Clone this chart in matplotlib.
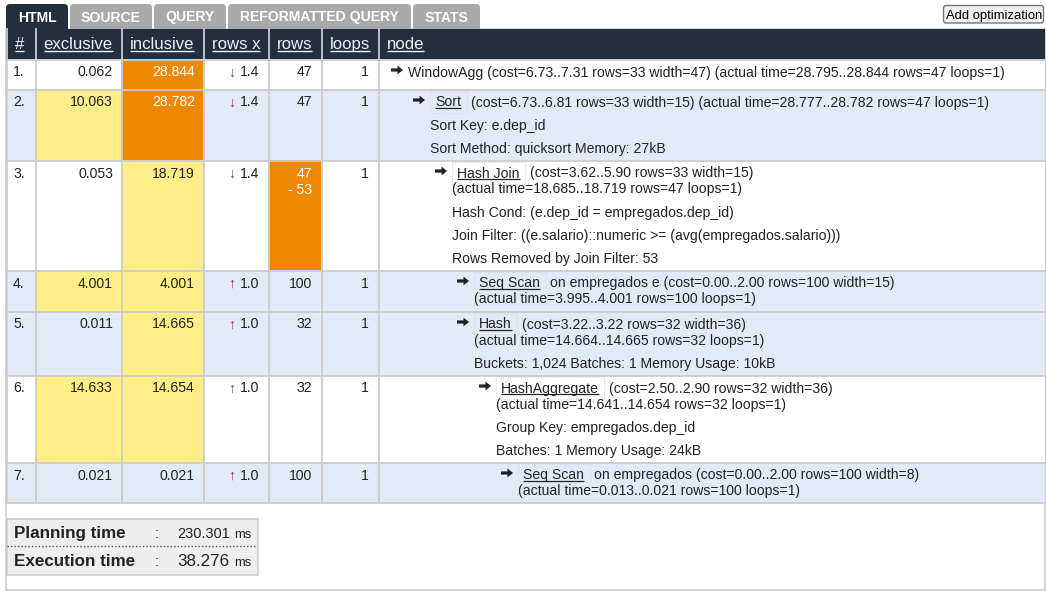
import matplotlib.pyplot as plt
from matplotlib.patches import Rectangle, FancyBboxPatch, Polygon

plt.rcParams['font.family'] = ['Liberation Sans', 'DejaVu Sans']

# ---- data ----
tabs = ["HTML", "SOURCE", "QUERY", "REFORMATTED QUERY", "STATS"]
headers = ["#", "exclusive", "inclusive", "rows x", "rows", "loops", "node"]

row_ids = ["1.", "2.", "3.", "4.", "5.", "6.", "7."]
exclusive = ["0.062", "10.063", "0.053", "4.001", "0.011", "14.633", "0.021"]
inclusive = ["28.844", "28.782", "18.719", "4.001", "14.665", "14.654", "0.021"]
rows_x_dir = ["down", "down", "down", "up", "up", "up", "up"]
rows_x = ["1.4", "1.4", "1.4", "1.0", "1.0", "1.0", "1.0"]
rows = [["47"], ["47"], ["47", "- 53"], ["100"], ["32"], ["32"], ["100"]]
loops = ["1", "1", "1", "1", "1", "1", "1"]

# cell shading: 0 = none, 1 = yellow, 2 = orange
excl_level = [0, 1, 0, 1, 0, 1, 0]
incl_level = [2, 2, 1, 1, 1, 1, 0]
rows_level = [0, 0, 2, 0, 0, 0, 0]
row_bg = ["white", "blue", "white", "blue", "blue", "white", "blue"]

depth = [0, 1, 2, 3, 3, 4, 5]
node_name = ["WindowAgg", "Sort", "Hash Join", "Seq Scan", "Hash", "HashAggregate", "Seq Scan"]
node_rest = [
    "(cost=6.73..7.31 rows=33 width=47) (actual time=28.795..28.844 rows=47 loops=1)",
    "(cost=6.73..6.81 rows=33 width=15) (actual time=28.777..28.782 rows=47 loops=1)",
    "(cost=3.62..5.90 rows=33 width=15)",
    "on empregados e (cost=0.00..2.00 rows=100 width=15)",
    "(cost=3.22..3.22 rows=32 width=36)",
    "(cost=2.50..2.90 rows=32 width=36)",
    "on empregados (cost=0.00..2.00 rows=100 width=8)",
]
node_actual = [
    None,
    None,
    "(actual time=18.685..18.719 rows=47 loops=1)",
    "(actual time=3.995..4.001 rows=100 loops=1)",
    "(actual time=14.664..14.665 rows=32 loops=1)",
    "(actual time=14.641..14.654 rows=32 loops=1)",
    "(actual time=0.013..0.021 rows=100 loops=1)",
]
node_extra = [
    [],
    ["Sort Key: e.dep_id", "Sort Method: quicksort Memory: 27kB"],
    ["Hash Cond: (e.dep_id = empregados.dep_id)",
     "Join Filter: ((e.salario)::numeric >= (avg(empregados.salario)))",
     "Rows Removed by Join Filter: 53"],
    [],
    ["Buckets: 1,024 Batches: 1 Memory Usage: 10kB"],
    ["Group Key: empregados.dep_id", "Batches: 1 Memory Usage: 24kB"],
    [],
]

planning_time = "230.301"
execution_time = "38.276"

# ---- style ----
W, H = 1046, 596
DARK = "#222f3e"
TXT = "#222222"
GRID = "#cccccc"
BLUE = "#e3eaf7"
YELLOW = "#ffee88"
ORANGE = "#ee8800"
shade = {0: None, 1: YELLOW, 2: ORANGE}


def px(p):
    return p * 72 / 100


fig = plt.figure(figsize=(W / 100, H / 100), dpi=100)
ax = fig.add_axes([0, 0, 1, 1])
ax.set_xlim(0, W)
ax.set_ylim(H, 0)
ax.axis("off")
fig.canvas.draw()
renderer = fig.canvas.get_renderer()


def text_width(t):
    return t.get_window_extent(renderer=renderer).width


def underline(t, y, color, lw=0.9):
    bb = t.get_window_extent(renderer=renderer)
    ax.plot([bb.x0, bb.x1], [y, y], color=color, lw=lw, solid_capstyle="butt")


def arrow_glyph(x0, yc, color=TXT):
    pts = [(x0, yc - 1.6), (x0 + 6.5, yc - 1.6), (x0 + 6.5, yc - 4.4), (x0 + 12, yc),
           (x0 + 6.5, yc + 4.4), (x0 + 6.5, yc + 1.6), (x0, yc + 1.6)]
    ax.add_patch(Polygon(pts, closed=True, fc=color, ec="none"))


# outer frame
ax.add_patch(Rectangle((5.5, 28.5), 1039.5, 561, fill=False, ec=GRID, lw=1.2))

# tabs
tab_x = [6, 70, 154, 228, 413]
tab_w = [62, 82, 72, 183, 67]
for i, (lab, x, w) in enumerate(zip(tabs, tab_x, tab_w)):
    col = DARK if i == 0 else "#a9a9a9"
    ax.add_patch(FancyBboxPatch((x, 4), w, 30, boxstyle="round,pad=0,rounding_size=4",
                                fc=col, ec="none"))
    ax.text(x + w / 2, 21.5, lab, color="white", fontsize=px(14), fontweight="bold",
            ha="center", va="baseline")

# add optimization button
ax.add_patch(FancyBboxPatch((943.5, 5.5), 100, 17.5, boxstyle="round,pad=0,rounding_size=2.5",
                            fc="#efefef", ec="#767676", lw=1))
ax.text(993.8, 19, "Add optimization", fontsize=px(13), color="black", ha="center",
        va="baseline")

# column layout
col_edges = [6, 35, 121, 203, 268, 321, 378, 1045]
header_top, header_bot = 29, 58
ax.add_patch(Rectangle((col_edges[0], header_top), col_edges[-1] - col_edges[0],
                       header_bot - header_top + 1, fc=DARK, ec="none"))
for j, h in enumerate(headers):
    t = ax.text(col_edges[j] + 8.5, 49, h, color="#eef2f6", fontsize=px(16.8),
                ha="left", va="baseline")
    underline(t, 51, "#eef2f6", lw=1.0)

# row heights from number of lines
row_tops = []
heights = []
y = 59
for k in range(len(row_ids)):
    n_head = 1 if node_actual[k] is None else 2
    h = max(30, 13 + 16 * (n_head - 1) + 23 * len(node_extra[k]) + 12)
    row_tops.append(y)
    heights.append(h)
    y += h
table_bot = y

fs = px(14)
for k in range(len(row_ids)):
    top, h = row_tops[k], heights[k]
    by = top + 17.5  # first baseline
    bg = BLUE if row_bg[k] == "blue" else "white"
    ax.add_patch(Rectangle((col_edges[0], top), col_edges[-1] - col_edges[0], h,
                           fc=bg, ec="none"))
    for j, lev in ((1, excl_level[k]), (2, incl_level[k]), (4, rows_level[k])):
        if shade[lev]:
            ax.add_patch(Rectangle((col_edges[j], top), col_edges[j + 1] - col_edges[j], h,
                                   fc=shade[lev], ec="none"))

    ax.text(col_edges[0] + 7, by, row_ids[k], fontsize=fs, color=TXT, va="baseline")
    ax.text(col_edges[2] - 8, by, exclusive[k], fontsize=fs, va="baseline", ha="right",
            color="white" if excl_level[k] == 2 else TXT)
    ax.text(col_edges[3] - 8, by, inclusive[k], fontsize=fs, va="baseline", ha="right",
            color="white" if incl_level[k] == 2 else TXT)
    t = ax.text(col_edges[4] - 9, by, rows_x[k], fontsize=fs, va="baseline", ha="right",
                color=TXT)
    arrow = "\u2193" if rows_x_dir[k] == "down" else "\u2191"
    ax.text(col_edges[4] - 9 - text_width(t) - 5, by, arrow, fontsize=px(14),
            va="baseline", ha="right", color="#a0342e")
    for m, r in enumerate(rows[k]):
        ax.text(col_edges[5] - 9, by + 16 * m, r, fontsize=fs, va="baseline", ha="right",
                color="white" if rows_level[k] == 2 else TXT)
    ax.text(col_edges[6] - 9, by, loops[k], fontsize=fs, va="baseline", ha="right", color=TXT)

    # node column
    ax0 = 391 + 22 * depth[k]
    arrow_glyph(ax0, by - 6.5)
    if depth[k] == 0:
        ax.text(ax0 + 17, by, node_name[k] + " " + node_rest[k], fontsize=fs,
                va="baseline", ha="left", color=TXT)
    else:
        nx = ax0 + 22
        t = ax.text(nx, by, node_name[k], fontsize=fs, va="baseline", ha="left", color=TXT)
        wname = text_width(t)
        underline(t, by + 1.5, TXT, lw=0.9)
        ax.add_patch(Rectangle((nx - 5.5, by - 15.5), wname + 11, 21.5, fill=False,
                               ec="#dadada", lw=0.8, ls=(0, (1, 1))))
        ax.text(nx + wname + 10, by, node_rest[k], fontsize=fs, va="baseline", ha="left",
                color=TXT)
    ly = by
    if node_actual[k] is not None:
        ly += 16
        ax.text(ax0 + 17, ly, node_actual[k], fontsize=fs, va="baseline", ha="left", color=TXT)
    for e in node_extra[k]:
        ly += 23.3
        ax.text(ax0 + 17, ly, e, fontsize=fs, va="baseline", ha="left", color=TXT)

# grid lines
for k in range(len(row_ids)):
    ax.plot([col_edges[0], col_edges[-1]], [row_tops[k] + 0.5, row_tops[k] + 0.5],
            color=GRID, lw=1.3)
ax.plot([col_edges[0], col_edges[-1]], [table_bot, table_bot], color=GRID, lw=1.3)
for x in col_edges:
    ax.plot([x + 0.5, x + 0.5], [header_top, table_bot], color=GRID, lw=1.3)

# timing box
ax.add_patch(Rectangle((6.5, 518.5), 251, 56, fc="#eeeeee", ec=GRID, lw=1.2))
ax.plot([7, 257], [546, 546], color="#555555", lw=1, ls=(0, (1, 1.5)))
ax.text(14, 537.7, "Planning time", fontsize=px(17), fontweight="bold", color=TXT,
        va="baseline")
ax.text(14, 565.7, "Execution time", fontsize=px(17), fontweight="bold", color=TXT,
        va="baseline")
ax.text(155, 537.7, ":", fontsize=px(14), color=TXT, va="baseline")
ax.text(155, 565.7, ":", fontsize=px(14), color=TXT, va="baseline")
t = ax.text(251, 537.7, "ms", fontsize=px(13), color=TXT, va="baseline", ha="right")
ax.text(251 - text_width(t) - 4, 537.7, planning_time, fontsize=px(14.5), color=TXT,
        va="baseline", ha="right")
t = ax.text(251, 565.7, "ms", fontsize=px(13), color=TXT, va="baseline", ha="right")
ax.text(251 - text_width(t) - 4, 565.7, execution_time, fontsize=px(17), color=TXT,
        va="baseline", ha="right")

fig.savefig("out.png", dpi=100)
